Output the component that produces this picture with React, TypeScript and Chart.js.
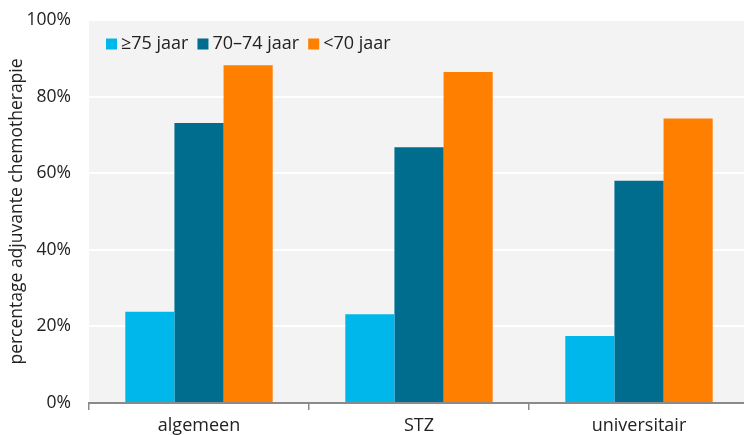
import React, { useEffect, useRef } from "react";
import { Chart, registerables } from "chart.js";

Chart.register(...registerables);

const categories = ["algemeen", "STZ", "universitair"];
const seriesLabels = ["≥75 jaar", "70–74 jaar", "<70 jaar"];
const above75 = [23.8, 23.2, 17.5];
const age70to74 = [73.1, 66.8, 58.0];
const below70 = [88.2, 86.4, 74.3];
const seriesColors = ["#00b7eb", "#006d8f", "#ff7f00"];
const yTicks = [0, 20, 40, 60, 80, 100];
const yTitle = "percentage adjuvante chemotherapie";

const FONT = "'Open Sans', Lato, sans-serif";

const bgPlugin = {
  id: "plotBg",
  beforeDraw(chart: any) {
    const { ctx, chartArea } = chart;
    ctx.save();
    ctx.fillStyle = "#f3f3f3";
    ctx.fillRect(chartArea.left, chartArea.top, chartArea.right - chartArea.left, chartArea.bottom - chartArea.top);
    ctx.restore();
  },
};

const legendPlugin = {
  id: "insideLegend",
  afterDatasetsDraw(chart: any) {
    const { ctx, chartArea } = chart;
    ctx.save();
    ctx.font = `18px ${FONT}`;
    ctx.textBaseline = "middle";
    ctx.textAlign = "left";
    let x = chartArea.left + 17;
    const yc = chartArea.top + 24;
    chart.data.datasets.forEach((ds: any) => {
      ctx.fillStyle = ds.backgroundColor;
      ctx.fillRect(x, yc - 5.5, 11, 11);
      x += 15;
      ctx.fillStyle = "#222";
      ctx.fillText(ds.label, x, yc);
      x += ctx.measureText(ds.label).width + 9;
    });
    ctx.restore();
  },
};

export default function App() {
  const ref = useRef<HTMLCanvasElement>(null);
  useEffect(() => {
    const chart = new Chart(ref.current!, {
      type: "bar",
      data: {
        labels: categories,
        datasets: [above75, age70to74, below70].map((d, i) => ({
          label: seriesLabels[i],
          data: d,
          backgroundColor: seriesColors[i],
          borderWidth: 0,
          categoryPercentage: 0.67,
          barPercentage: 1,
        })),
      },
      options: {
        animation: false,
        responsive: false,
        maintainAspectRatio: false,
        layout: { padding: { left: 0, top: 20, right: 1, bottom: 0 } },
        plugins: { legend: { display: false }, tooltip: { enabled: false } },
        scales: {
          x: {
            offset: true,
            grid: {
              offset: true,
              drawOnChartArea: false,
              drawTicks: true,
              tickLength: 7,
              color: "#8a8a8a",
              lineWidth: 1.5,
            },
            border: { display: true, color: "#8a8a8a", width: 2 },
            ticks: { color: "#222", font: { family: FONT, size: 18 }, padding: 5 },
            afterFit(scale: any) {
              scale.height = 32;
            },
          },
          y: {
            min: 0,
            max: 100,
            afterBuildTicks(scale: any) {
              scale.ticks = yTicks.map((v) => ({ value: v }));
            },
            grid: { color: "#ffffff", lineWidth: 2, drawTicks: false },
            border: { display: false },
            ticks: {
              color: "#222",
              font: { family: FONT, size: 17.5 },
              padding: 18,
              callback: (v: any) => `${v}%`,
            },
            title: {
              display: true,
              text: yTitle,
              color: "#222",
              font: { family: FONT, size: 17.5 },
              padding: { top: 7, bottom: 0 },
            },
            afterFit(scale: any) {
              scale.width = 89;
              scale.paddingTop = 0;
              scale.paddingBottom = 0;
            },
          },
        },
      },
      plugins: [bgPlugin, legendPlugin],
    } as any);
    return () => chart.destroy();
  }, []);
  return (
    <div style={{ position: "fixed", left: 0, top: 0, width: 744, height: 435, overflow: "hidden", background: "#fff" }}>
      <canvas ref={ref} width={750} height={435} style={{ display: "block", width: 750, height: 435 }} />
    </div>
  );
}
